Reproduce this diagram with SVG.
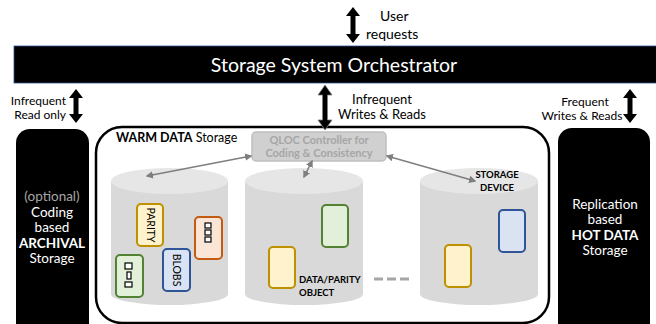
<svg xmlns="http://www.w3.org/2000/svg" width="656" height="324" viewBox="0 0 656 324">
<defs>
<style>
.t{font-family:Lato,"Open Sans","Liberation Sans",sans-serif;}
.lbl{font-size:13px;fill:#000;}
.wt{font-size:13.5px;fill:#fff;text-anchor:middle;}
.cyl{fill:#d9d9d9;}
.cyltop{fill:#e6e6e6;}
.obj{stroke-width:2;}
.sm{font-size:9.5px;font-weight:bold;fill:#000;}
.gl{stroke:#7f7f7f;stroke-width:1.5;fill:none;marker-start:url(#ah);marker-end:url(#ah);}
.gly{fill:#fff;stroke:#000;stroke-width:1.2;}
</style>
<marker id="ah" viewBox="0 0 10 10" refX="8" refY="5" markerWidth="5" markerHeight="5" orient="auto-start-reverse">
<path d="M0,0 L10,5 L0,10 z" fill="#7f7f7f"/>
</marker>
</defs>

<g id="orchestrator">
<rect x="14" y="46" width="650" height="37" fill="#000" stroke="#2f528f" stroke-width="0.8"/>
<text class="t" x="334" y="72" font-size="19.5" fill="#fff" text-anchor="middle">Storage System Orchestrator</text>
</g>

<g id="user-requests">
<text class="t" x="380" y="21" font-size="14">User</text>
<text class="t" x="366" y="39" font-size="14">requests</text>
</g>

<g id="archival">
<rect x="16" y="129" width="73" height="210" rx="14" fill="#000"/>
<text class="t wt" x="52" y="201" style="fill:#a6a6a6">(optional)</text>
<text class="t wt" x="52" y="217">Coding</text>
<text class="t wt" x="52" y="232">based</text>
<text class="t wt" x="52" y="248" font-weight="bold">ARCHIVAL</text>
<text class="t wt" x="52" y="263">Storage</text>
</g>

<g id="hot">
<rect x="558" y="128" width="92" height="210" rx="14" fill="#000"/>
<text class="t wt" x="605" y="209">Replication</text>
<text class="t wt" x="605" y="224">based</text>
<text class="t wt" x="605" y="240" font-weight="bold">HOT DATA</text>
<text class="t wt" x="605" y="255">Storage</text>
</g>

<g id="warm">
<rect x="96" y="127" width="453" height="196" rx="26" fill="#fff" stroke="#000" stroke-width="2.5"/>
<text class="t" x="116" y="142" font-size="12.5"><tspan font-weight="bold">WARM DATA</tspan> Storage</text>
</g>

<g id="labels">
<text class="t" x="66" y="105" text-anchor="end" font-size="12">Infrequent</text>
<text class="t" x="66" y="119" text-anchor="end" font-size="12">Read only</text>
<text class="t lbl" x="382" y="104" text-anchor="middle">Infrequent</text>
<text class="t lbl" x="382" y="119" text-anchor="middle">Writes &amp; Reads</text>
<text class="t" x="585" y="106" text-anchor="middle" font-size="12">Frequent</text>
<text class="t" x="582" y="120" text-anchor="middle" font-size="12">Writes &amp; Reads</text>
</g>

<g id="cylinder1">
<path class="cyl" d="M111,181 V294 A58.5,11 0 0 0 228,294 V181 Z"/>
<ellipse class="cyltop" cx="169.5" cy="181" rx="58.5" ry="13"/>
<rect class="obj" x="137" y="204" width="26" height="42" rx="4" fill="#fff2cc" stroke="#bf9000"/>
<text class="t" transform="translate(146.5,225) rotate(90)" font-size="10.5" text-anchor="middle" fill="#000">PARITY</text>
<rect class="obj" x="195" y="217" width="27" height="42" rx="4" fill="#fbe5d6" stroke="#c55a11"/>
<rect class="gly" x="205" y="223" width="6" height="5"/>
<rect class="gly" x="205" y="230" width="6" height="5"/>
<rect class="gly" x="205" y="237" width="6" height="5"/>
<rect class="obj" x="163" y="249" width="27" height="42" rx="4" fill="#dae3f3" stroke="#2f5597"/>
<text class="t" transform="translate(172.5,270) rotate(90)" font-size="10.5" text-anchor="middle" fill="#000">BLOBS</text>
<rect class="obj" x="116" y="255" width="27" height="42" rx="4" fill="#e2f0d9" stroke="#548235"/>
<rect class="gly" x="125" y="263" width="7" height="6"/>
<rect class="gly" x="127" y="272" width="4" height="7"/>
<rect class="gly" x="125" y="282" width="7" height="5"/>
</g>

<g id="cylinder2">
<path class="cyl" d="M245,181 V294 A59,11 0 0 0 363,294 V181 Z"/>
<ellipse class="cyltop" cx="304" cy="181" rx="59" ry="13"/>
<rect class="obj" x="322" y="205" width="26" height="42" rx="4" fill="#e2f0d9" stroke="#548235"/>
<rect class="obj" x="269" y="247" width="26" height="41" rx="4" fill="#fff2cc" stroke="#bf9000"/>
<text class="t sm" x="299" y="283">DATA/PARITY</text>
<text class="t sm" x="299" y="296">OBJECT</text>
</g>

<g id="cylinder3">
<path class="cyl" d="M420,181 V294 A59,11 0 0 0 538,294 V181 Z"/>
<ellipse class="cyltop" cx="479" cy="181" rx="59" ry="13"/>
<text class="t sm" x="497" y="178" text-anchor="middle">STORAGE</text>
<text class="t sm" x="497" y="191" text-anchor="middle">DEVICE</text>
<rect class="obj" x="499" y="210" width="26" height="42" rx="4" fill="#dae3f3" stroke="#2f5597"/>
<rect class="obj" x="445" y="245" width="26" height="42" rx="4" fill="#fff2cc" stroke="#bf9000"/>
</g>

<g id="qloc">
<rect x="252" y="132" width="134" height="29" rx="4" fill="#d0d0d0" stroke="#bfbfbf" stroke-width="1.5"/>
<text class="t" x="319" y="144" font-size="11" font-weight="bold" fill="#a6a6a6" text-anchor="middle">QLOC Controller for</text>
<text class="t" x="319" y="157" font-size="11" font-weight="bold" fill="#a6a6a6" text-anchor="middle">Coding &amp; Consistency</text>
</g>

<g id="connectors">
<polygon points="353,7 360,16 355.5,16 355.5,34 360,34 353,43 346,34 350.5,34 350.5,16 346,16" fill="#000"/>
<polygon points="76,89 83,98 78.5,98 78.5,114 83,114 76,123 69,114 73.5,114 73.5,98 69,98" fill="#000"/>
<polygon points="630,89 637,98 632.5,98 632.5,114 637,114 630,123 623,114 627.5,114 627.5,98 623,98" fill="#000"/>
<polygon points="325,85 332,95 327.5,95 327.5,120 332,120 325,130 318,120 322.5,120 322.5,95 318,95" fill="#000" stroke="#7f7f7f" stroke-width="0.8"/>
<line class="gl" x1="251" y1="156" x2="147" y2="176"/>
<line class="gl" x1="312" y1="161" x2="304" y2="177"/>
<line class="gl" x1="387" y1="156" x2="475" y2="181"/>
<line x1="374" y1="279" x2="410" y2="279" stroke="#a6a6a6" stroke-width="3" stroke-dasharray="9,4"/>
</g>
</svg>
